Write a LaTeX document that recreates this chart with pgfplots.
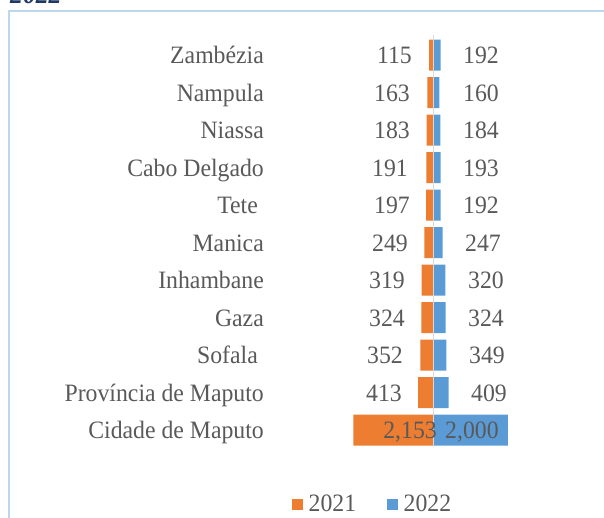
\documentclass[border=0pt]{standalone}
\usepackage{pgfplots}
\pgfplotsset{compat=1.18}
\usepackage{pgfplotstable}
\usepackage{fontspec}
\setmainfont{Liberation Serif}[FakeStretch=0.95]
\definecolor{orng}{HTML}{ED7D31}
\definecolor{blu}{HTML}{5B9BD5}
\definecolor{txt}{HTML}{595959}
\definecolor{framec}{HTML}{BDD7EE}
\definecolor{navy}{HTML}{1F3864}
\definecolor{axisgray}{HTML}{D9D9D9}
\newcommand{\lblfont}{\fontsize{25}{30}\selectfont}

\pgfplotstableread{
y v21 v22
10 115 192
9 163 160
8 183 184
7 191 193
6 197 192
5 249 247
4 319 320
3 324 324
2 352 349
1 413 409
0 2153 2000
}\data

\pgfplotstableread{
x y lab
-578 10 115
-632 9 163
-632 8 183
-685 7 191
-632 6 197
-685 5 249
-766 4 319
-766 3 324
-820 2 352
-847 1 413
94 0 2,153
}\labA

\pgfplotstableread{
x y lab
793 10 192
793 9 160
793 8 184
793 7 193
793 6 192
847 5 247
927 4 320
927 3 324
954 2 349
1008 1 409
309 0 2,000
}\labB

\pgfplotstableread{
x y lab
-4556 10 {Zambézia}
-4556 9 {Nampula}
-4556 8 {Niassa}
-4556 7 {Cabo Delgado}
-4718 6 {Tete}
-4556 5 {Manica}
-4556 4 {Inhambane}
-4556 3 {Gaza}
-4718 2 {Sofala}
-4556 1 {Província de Maputo}
-4556 0 {Cidade de Maputo}
}\names

\begin{document}
\begin{tikzpicture}
\path[use as bounding box] (0pt,0pt) rectangle (604pt,517pt);
\clip (0pt,0pt) rectangle (604pt,517pt);
\draw[framec, line width=1.6pt] (9pt,-5pt) -- (9pt,506pt) -- (610pt,506pt);
\node[anchor=base west, inner sep=0pt, text=navy, font=\fontsize{27}{27}\selectfont\bfseries\itshape] at (10pt,513pt) {2022};
\begin{axis}[
  at={(0pt,0pt)}, anchor=south west, scale only axis,
  width=604pt, height=517pt,
  xmin=-11653, xmax=4583, ymin=-2.32, ymax=11.467,
  axis lines=none, clip=false,
  sqlegend/.style={legend image code/.code={\fill[##1,draw=none] (0pt,-5.5pt) rectangle (11pt,5.5pt);}},
  legend style={at={(rel axis cs:0.4834,0.025)}, anchor=west, draw=none, fill=none,
    legend columns=2, inner sep=0pt, font=\lblfont, text=txt,
    /tikz/every odd column/.append style={column sep=3.5pt},
    /tikz/every even column/.append style={column sep=29pt}},
]
\addplot[xbar, bar width=31pt, bar shift=0pt, fill=orng, draw=none, sqlegend]
  table[x expr=-\thisrow{v21}, y=y] {\data};
\addlegendentry{2021}
\addplot[xbar, bar width=31pt, bar shift=0pt, fill=blu, draw=none, sqlegend]
  table[x=v22, y=y] {\data};
\addlegendentry{2022}
\addplot[forget plot, axisgray, line width=1.5pt] coordinates {(0,10.53) (0,-0.45)};
\addplot[forget plot, draw=none, mark=none, nodes near coords, point meta=explicit symbolic,
  nodes near coords style={anchor=base east, yshift=-8.5pt, inner sep=0pt, font=\lblfont, text=txt}]
  table[x=x, y=y, meta=lab] {\labA};
\addplot[forget plot, draw=none, mark=none, nodes near coords, point meta=explicit symbolic,
  nodes near coords style={anchor=base west, yshift=-8.5pt, inner sep=0pt, font=\lblfont, text=txt}]
  table[x=x, y=y, meta=lab] {\labB};
\addplot[forget plot, draw=none, mark=none, nodes near coords, point meta=explicit symbolic,
  nodes near coords style={anchor=base east, yshift=-8.5pt, inner sep=0pt, font=\lblfont, text=txt}]
  table[x=x, y=y, meta=lab] {\names};
\end{axis}
\end{tikzpicture}
\end{document}
